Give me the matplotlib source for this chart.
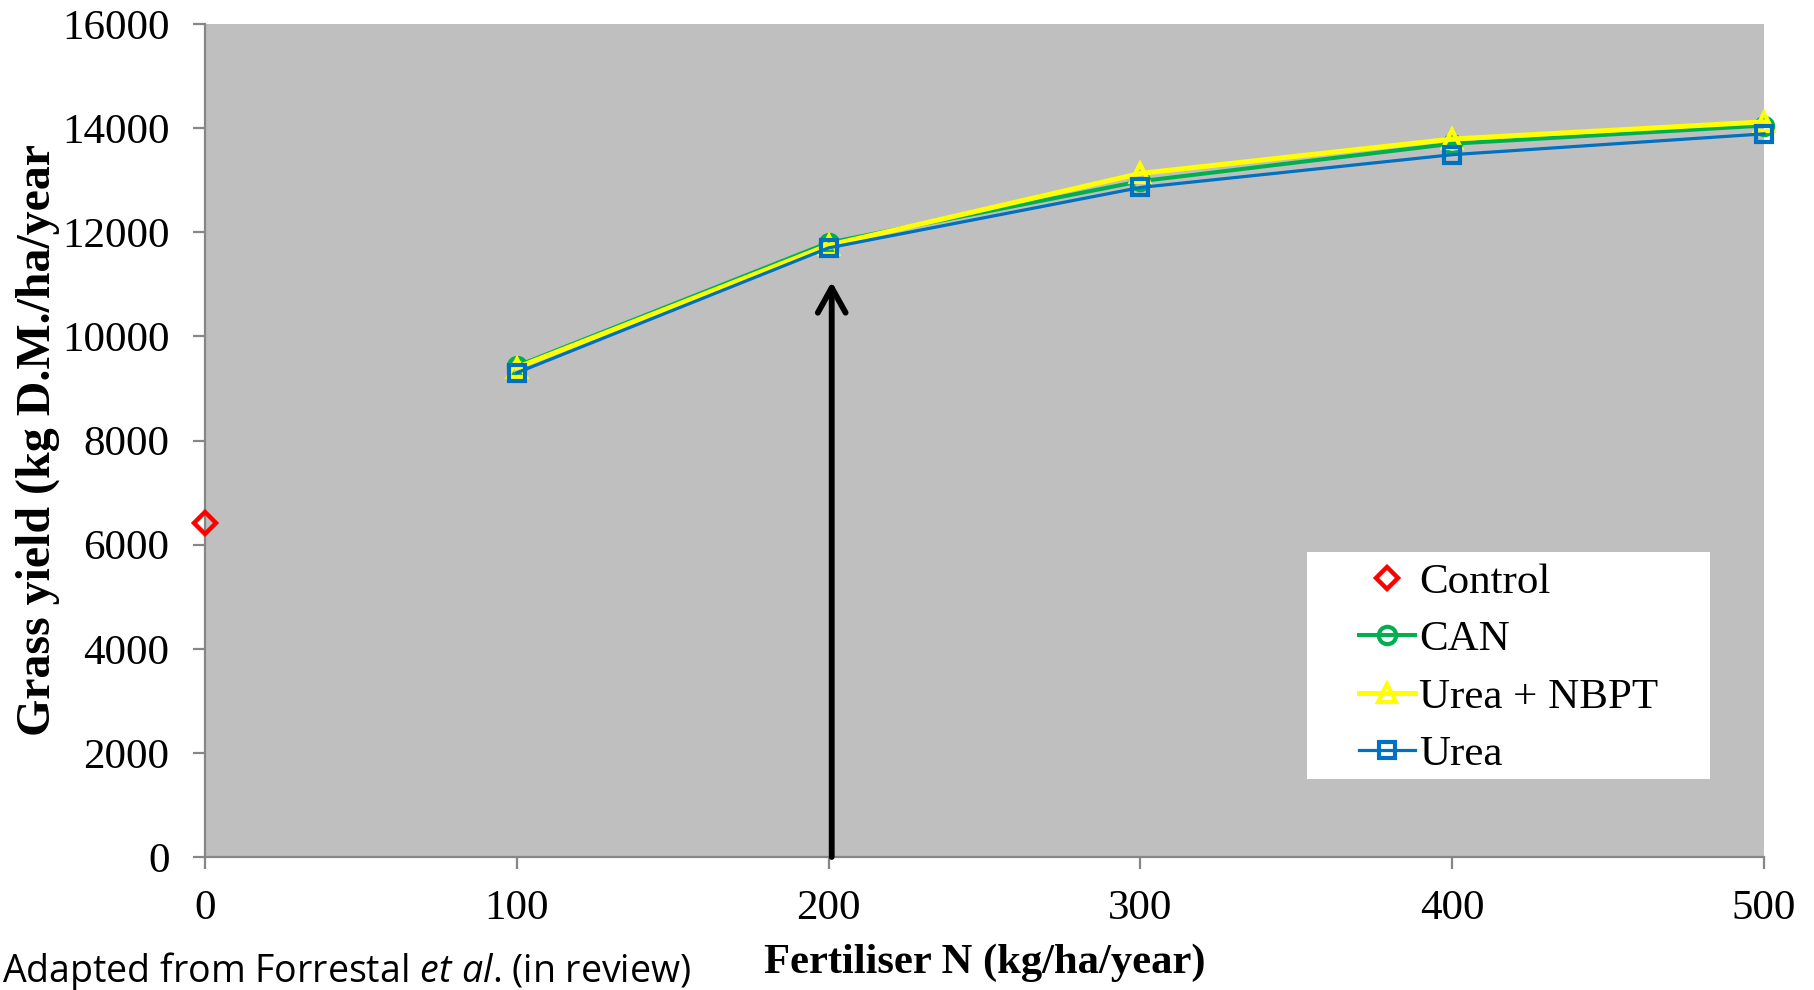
import matplotlib
matplotlib.use("Agg")
import matplotlib.pyplot as plt
from matplotlib.patches import Rectangle

# ---- data ----
x_control = [0]
y_control = [6420]
x_n = [100, 200, 300, 400, 500]
can = [9430, 11800, 12980, 13700, 14050]
urea_nbpt = [9400, 11750, 13130, 13790, 14120]
urea = [9300, 11700, 12860, 13490, 13890]
xticks = [0, 100, 200, 300, 400, 500]
yticks = [0, 2000, 4000, 6000, 8000, 10000, 12000, 14000, 16000]

plt.rcParams['mathtext.fontset'] = 'custom'
plt.rcParams['mathtext.rm'] = 'Open Sans'
plt.rcParams['mathtext.it'] = 'Open Sans:italic'

SERIF = ['Liberation Serif', 'DejaVu Serif']

fig = plt.figure(figsize=(18.15, 9.9), dpi=100)
W, H = 1815, 990
L, R, T, B = 205, 1764, 24, 857
ax = fig.add_axes([L / W, (H - B) / H, (R - L) / W, (B - T) / H])
ax.set_facecolor('#BFBFBF')

ax.plot(x_control, y_control, linestyle='none', marker='D', ms=11, mew=3.2,
        mec='#FF0000', mfc='none', label='Control', clip_on=False, zorder=5)
ax.plot(x_n, can, color='#00B050', lw=2.9, marker='o', ms=12.5, mew=3.0,
        mec='#00B050', mfc='none', label='CAN', clip_on=False, zorder=3)
ax.plot(x_n, urea_nbpt, color='#FFFF00', lw=3.6, marker='^', ms=13.5, mew=3.0,
        mec='#FFFF00', mfc='none', label='Urea + NBPT', clip_on=False, zorder=4)
ax.plot(x_n, urea, color='#0070C0', lw=2.3, marker='s', ms=11.5, mew=3.0,
        mec='#0070C0', mfc='none', label='Urea', clip_on=False, zorder=5)

# arrow annotation
ax.annotate('', xy=(201, 11050), xytext=(201, 0),
            arrowprops=dict(arrowstyle='->,head_length=0.9,head_width=0.5',
                            lw=4.2, color='black', mutation_scale=20,
                            shrinkA=0, shrinkB=0), zorder=6)

ax.set_xlim(0, 500)
ax.set_ylim(0, 16000)
ax.set_xticks(xticks)
ax.set_yticks(yticks)
ax.set_xticklabels([str(v) for v in xticks], fontfamily=SERIF, fontsize=31)
ax.set_yticklabels([str(v) for v in yticks], fontfamily=SERIF, fontsize=31)

for s in ['top', 'right']:
    ax.spines[s].set_visible(False)
for s in ['left', 'bottom']:
    ax.spines[s].set_color('#868686')
    ax.spines[s].set_linewidth(1.6)
ax.tick_params(axis='both', direction='out', length=8.6, width=1.6,
               color='#868686')
ax.tick_params(axis='y', pad=17)
ax.tick_params(axis='x', pad=15)

ax.set_xlabel('Fertiliser N (kg/ha/year)', fontfamily=SERIF, fontsize=30.7,
              fontweight='bold', va='center')
ax.xaxis.set_label_coords(0.5, -0.127)
ax.set_ylabel('Grass yield (kg D.M./ha/year', fontfamily=SERIF, fontsize=34.5,
              fontweight='bold', va='center')
ax.yaxis.set_label_coords(-0.1075, 0.5)

# legend background box
ax.add_patch(Rectangle(((1307 - L) / (R - L), (B - 779) / (B - T)),
                       403 / (R - L), (779 - 552) / (B - T),
                       transform=ax.transAxes, facecolor='white',
                       edgecolor='none', zorder=7, clip_on=False))
leg = ax.legend(loc='upper left',
                bbox_to_anchor=((1359 - L) / (R - L), (B - 563) / (B - T)),
                frameon=False, borderpad=0, borderaxespad=0,
                prop={'family': SERIF, 'size': 31},
                handlelength=1.3, handletextpad=0.1, labelspacing=0.42)
leg.set_zorder(8)

fig.text(0.001, (H - 982) / H,
         r'Adapted from Forrestal $\mathit{et\ al}$. (in review)',
         fontfamily='Open Sans', fontsize=27, va='baseline', ha='left')

fig.savefig('out.png', dpi=100)
